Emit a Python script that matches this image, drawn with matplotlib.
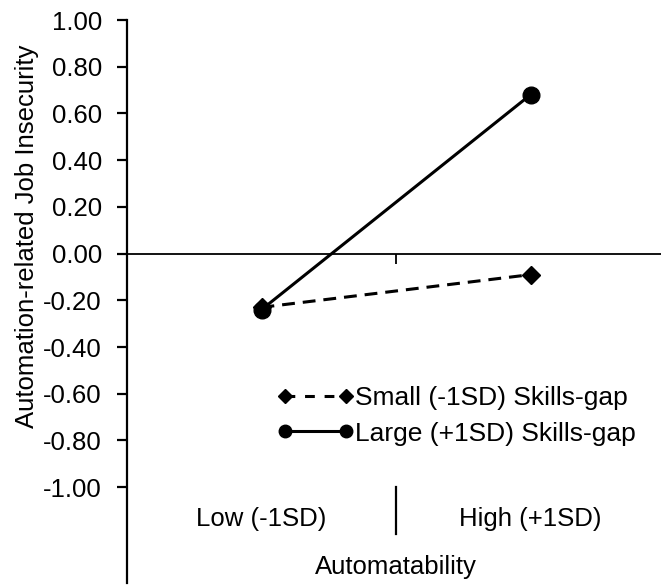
"""Simple slopes plot: automation-related job insecurity by automatability and skills-gap."""
import matplotlib

matplotlib.use("Agg")
import matplotlib.pyplot as plt  # noqa: E402
from matplotlib.lines import Line2D  # noqa: E402

plt.rcParams["font.family"] = ["Liberation Sans", "DejaVu Sans"]

# ---- data ----
categories = ["Low (-1SD)", "High (+1SD)"]
cat_pos = [0.5, 1.5]
small_gap = [-0.23, -0.09]
large_gap = [-0.24, 0.68]
series_labels = ["Small (-1SD) Skills-gap", "Large (+1SD) Skills-gap"]
yticks = [-1.0, -0.8, -0.6, -0.4, -0.2, 0.0, 0.2, 0.4, 0.6, 0.8, 1.0]

FS = 18.5
W, H = 661, 585
fig = plt.figure(figsize=(W / 100, H / 100), dpi=100)
ax = fig.add_axes([127 / W, 1 - 583 / H, 1 - 127 / W, (583 - 20) / H])

dash = (0, (4.2, 2.6))
ax.plot(cat_pos, small_gap, color="black", lw=2.2, ls=dash,
        marker="D", ms=9, zorder=3)
ax.plot(cat_pos, large_gap, color="black", lw=2.2, ls="-",
        marker="o", ms=12, zorder=4)

ax.set_xlim(0, (W - 127) / 269)
ax.set_ylim(-1.41, 1.0)

# axes styling (Excel-like)
for s in ["top", "right"]:
    ax.spines[s].set_visible(False)
ax.spines["left"].set_linewidth(1.6)
ax.spines["bottom"].set_position(("data", 0))
ax.spines["bottom"].set_linewidth(1.3)
ax.set_yticks(yticks)
ax.set_yticklabels([f"{v:.2f}" for v in yticks])
ax.tick_params(axis="y", direction="out", length=7, width=1.6, labelsize=FS, pad=11)
ax.set_xticks([1.0])
ax.set_xticklabels([""])
ax.tick_params(axis="x", direction="out", length=7, width=1.3)

# category labels placed low, as in Excel's "low" label position
for x, lab in zip(cat_pos, categories):
    ax.text(x, -1.167, lab, ha="center", va="baseline", fontsize=FS)
ax.plot([1.0, 1.0], [-1.0, -1.2], color="black", lw=1.6, clip_on=False)
ax.text(1.0, -1.372, "Automatability", ha="center", va="baseline", fontsize=FS)

fig.text(27 / W, 1 - 236 / H, "Automation-related Job Insecurity", rotation=90,
         ha="center", va="center", fontsize=FS)

handles = [
    Line2D([], [], color="black", lw=2.2, ls=(0, (3.2, 3.2)), marker="D", ms=7),
    Line2D([], [], color="black", lw=2.2, ls="-", marker="o", ms=9),
]
ax.legend(handles, series_labels, loc="center left", frameon=False,
          bbox_to_anchor=((277 - 127) / (W - 127), (583 - 416) / (583 - 20)),
          fontsize=FS + 0.5, numpoints=2, handlelength=2.9, handletextpad=0.05,
          labelspacing=0.42, borderpad=0, borderaxespad=0)

fig.savefig("out.png", dpi=100)
